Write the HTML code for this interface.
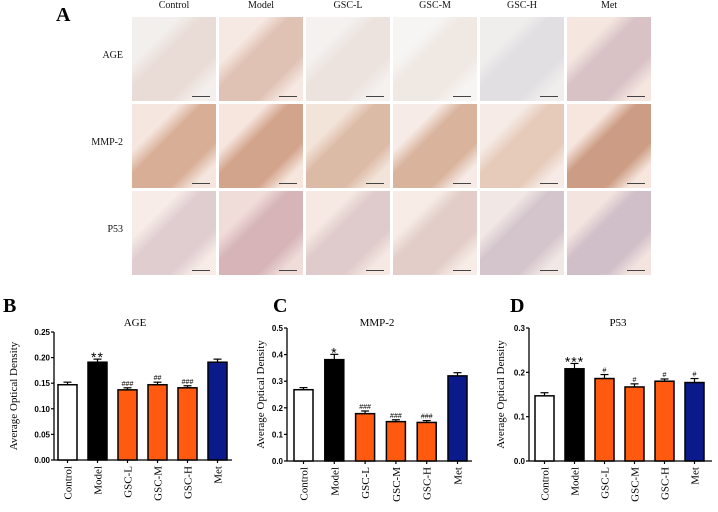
<!DOCTYPE html>
<html><head><meta charset="utf-8"><style>
body{margin:0;background:#fff;width:718px;height:512px;overflow:hidden;position:relative;font-family:"Liberation Serif",serif}
.tile{position:absolute;width:84px;height:84px}
.lbl{position:absolute;font-size:10px;color:#111}
.scale{position:absolute;right:6px;bottom:4px;width:18px;height:1px;background:#444}
</style></head><body>
<div style="position:absolute;left:56px;top:4px;font:bold 20px 'Liberation Serif',serif">A</div>
<div id="grid"></div>
<svg id="charts" width="718" height="512" style="position:absolute;left:0;top:0"></svg>
<script>
const cols=["Control","Model","GSC-L","GSC-M","GSC-H","Met"];
const rows=["AGE","MMP-2","P53"];
const tileColors=[
[["#f3efec","#e9dcd6"],["#f6e8e2","#e0c2b4"],["#f4f1ef","#ece3de"],["#f7f5f3","#efe8e3"],["#efeeec","#e2dfe3"],["#f5e6e0","#d8c2c6"]],
[["#f5e7e0","#d8ae96"],["#f6e6de","#d3a48c"],["#f3e4da","#dcbba6"],["#f6ebe6","#d9b39c"],["#f6ebe6","#e6cbba"],["#f6e6de","#cc9c84"]],
[["#f7ece7","#e0cdd0"],["#f0dcd8","#d6b4b8"],["#f6e9e3","#dfcbcb"],["#f7ece6","#e2cdc8"],["#f1e7e4","#d4c5cc"],["#f3e4df","#d0bec8"]]];
const grid=document.getElementById('grid');
cols.forEach((c,i)=>{const d=document.createElement('div');d.className='lbl';


d.style.left=(132+i*87)+'px';d.style.width='84px';d.style.textAlign='center';d.style.top='0px';d.textContent=c;grid.appendChild(d);});
rows.forEach((r,j)=>{const d=document.createElement('div');d.className='lbl';


d.style.right=(718-123)+'px';d.style.top=(50+j*87)+'px';d.textContent=r;grid.appendChild(d);
cols.forEach((c,i)=>{const t=document.createElement('div');t.className='tile';


const [bg,b]=tileColors[j][i];
t.style.left=(132+i*87)+'px';t.style.top=(17+j*87)+'px';
t.style.background=`linear-gradient(135deg,${bg} 28%,${b} 42%,${b} 72%,${bg} 86%)`;
const s=document.createElement('div');s.className='scale';t.appendChild(s);
grid.appendChild(t);});});

const cats=["Control","Model","GSC-L","GSC-M","GSC-H","Met"];
const fills=["#ffffff","#000000","#ff5a10","#ff5a10","#ff5a10","#0a1a8a"];
const ageVals=[0.147,0.191,0.137,0.147,0.141,0.191];
const ageErr=[0.005,0.006,0.004,0.005,0.004,0.006];
const ageMarks=["","**","###","##","###",""];
const mmpVals=[0.268,0.381,0.178,0.148,0.145,0.320];
const mmpErr=[0.008,0.020,0.010,0.007,0.007,0.012];
const mmpMarks=["","*","###","###","###",""];
const p53Vals=[0.147,0.208,0.186,0.167,0.180,0.177];
const p53Err=[0.007,0.012,0.009,0.007,0.005,0.009];
const p53Marks=["","***","#","#","#","#"];
const ageTicks=["0.00","0.05","0.10","0.15","0.20","0.25"];
const mmpTicks=["0.0","0.1","0.2","0.3","0.4","0.5"];
const p53Ticks=["0.0","0.1","0.2","0.3"];

const svg=document.getElementById('charts');const NS="http://www.w3.org/2000/svg";
function el(tag,a,txt){const e=document.createElementNS(NS,tag);for(const k in a)e.setAttribute(k,a[k]);if(txt!==undefined)e.textContent=txt;svg.appendChild(e);return e;}
function chart(o){
 const y=v=>o.y0-(v/o.max)*(o.y0-o.ytop);
 const x=i=>o.c0+i*o.step;
 let e=el('text',{x:o.lx,y:312,'font-family':'Liberation Serif,serif','font-weight':'bold','font-size':20},o.letter);
 
 
 e=el('text',{x:o.tx,y:326,'text-anchor':'middle','font-family':'Liberation Serif,serif','font-size':11},o.title);
 
 
 e=el('text',{transform:`translate(${o.yl},${(o.y0+o.ytop)/2}) rotate(-90)`,'text-anchor':'middle','font-family':'Liberation Serif,serif','font-size':11},'Average Optical Density');
 
 
 e=el('line',{x1:o.ax,x2:o.ax,y1:o.ytop,y2:o.y0,stroke:'#000','stroke-width':1.3});
 
 
 e=el('line',{x1:o.ax,x2:o.xend,y1:o.y0,y2:o.y0,stroke:'#000','stroke-width':1.3});
 
 
 o.ticks.forEach((t,k)=>{const v=parseFloat(t);const yy=y(v);
  el('line',{x1:o.ax-3,x2:o.ax,y1:yy,y2:yy,stroke:'#000','stroke-width':1.2});
  e=el('text',{x:o.ax-4,y:yy+3,'text-anchor':'end','font-family':'Liberation Sans,sans-serif','font-weight':'bold','font-size':8},t);
  
  });
 cats.forEach((c,i)=>{const cx=x(i),v=o.vals[i],er=o.err[i];
  el('line',{x1:cx,x2:cx,y1:y(v),y2:y(v+er),stroke:'#000','stroke-width':1.2});
  el('line',{x1:cx-4,x2:cx+4,y1:y(v+er),y2:y(v+er),stroke:'#000','stroke-width':1.2});
  e=el('rect',{x:cx-9.5,y:y(v),width:19,height:o.y0-y(v),fill:fills[i],stroke:'#000','stroke-width':1.5});
  
  
  const m=o.marks[i];
  if(m){const star=m[0]=='*';
   e=el('text',{x:cx,y:y(v+er)-(star?-3:2),'text-anchor':'middle','font-family':'Liberation Sans,sans-serif','font-size':star?14:7,'letter-spacing':star?1:0},m);
   
   }
  e=el('text',{transform:`translate(${cx+4},${o.y0+6}) rotate(-90)`,'text-anchor':'end','font-family':'Liberation Serif,serif','font-size':11},c);
  
  
  el('line',{x1:cx,x2:cx,y1:o.y0,y2:o.y0+3,stroke:'#000','stroke-width':1.2});
 });
}
chart({id:'age',letter:'B',lx:3,title:'AGE',tx:135,yl:17,ax:54,xend:232,y0:460,ytop:332,max:0.25,c0:67.5,step:30,vals:ageVals,err:ageErr,marks:ageMarks,ticks:ageTicks});
chart({id:'mmp2',letter:'C',lx:273,title:'MMP-2',tx:377,yl:264,ax:287,xend:472,y0:461,ytop:328,max:0.5,c0:303.5,step:30.8,vals:mmpVals,err:mmpErr,marks:mmpMarks,ticks:mmpTicks});
chart({id:'p53',letter:'D',lx:510,title:'P53',tx:618,yl:504,ax:529,xend:712,y0:461,ytop:328,max:0.3,c0:544.5,step:30,vals:p53Vals,err:p53Err,marks:p53Marks,ticks:p53Ticks});
</script>
</body></html>
